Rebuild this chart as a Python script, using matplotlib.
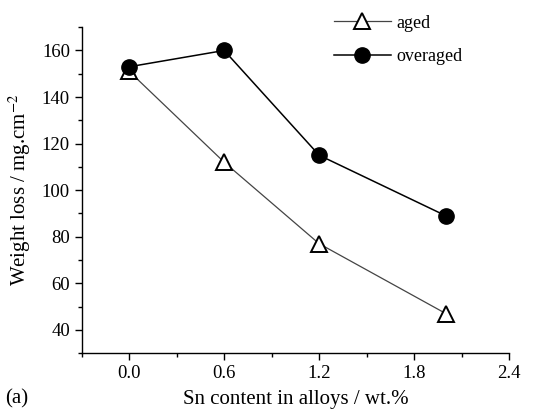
import matplotlib
matplotlib.use("Agg")
import matplotlib.pyplot as plt
from matplotlib.ticker import MultipleLocator

plt.rcParams['font.family'] = ['Liberation Serif', 'DejaVu Serif']
plt.rcParams['mathtext.fontset'] = 'stix'

# data
sn = [0.0, 0.6, 1.2, 2.0]
aged = [151, 112, 77, 47]
overaged = [153, 160, 115, 89]

fig = plt.figure(figsize=(5.45, 4.12), dpi=100)
ax = fig.add_axes([0.150, 0.143, 0.784, 0.791])

ax.plot(sn, aged, color='#444444', lw=0.9, marker='^', ms=11, mfc='white',
        mec='black', mew=1.4, label='aged', zorder=3)
ax.plot(sn, overaged, color='black', lw=1.1, marker='o', ms=11, mfc='black',
        mec='black', label='overaged', zorder=4)

ax.set_xlim(-0.3, 2.4)
ax.set_ylim(30, 170)
ax.xaxis.set_major_locator(MultipleLocator(0.6))
ax.xaxis.set_minor_locator(MultipleLocator(0.3))
ax.yaxis.set_major_locator(MultipleLocator(20))
ax.yaxis.set_minor_locator(MultipleLocator(10))
ax.set_yticks(range(40, 161, 20))
ax.xaxis.set_major_formatter(matplotlib.ticker.FormatStrFormatter('%.1f'))

for s in ['top', 'right']:
    ax.spines[s].set_visible(False)
for s in ['left', 'bottom']:
    ax.spines[s].set_linewidth(1.0)
ax.tick_params(which='both', direction='out', labelsize=13.5, width=1.0)
ax.tick_params(which='major', length=5)
ax.tick_params(which='minor', length=3)

ax.set_xlabel('Sn content in alloys / wt.%', fontsize=15, labelpad=6)
ax.set_ylabel('Weight loss / mg.cm$^{-2}$', fontsize=15, labelpad=6)

fig.legend(loc='upper left', bbox_to_anchor=(0.583, 1.004), frameon=False,
           fontsize=13, handlelength=3.15, handletextpad=0.28, labelspacing=0.9)

fig.text(0.01, 0.02, '(a)', fontsize=15)

fig.savefig('out.png', dpi=100)
